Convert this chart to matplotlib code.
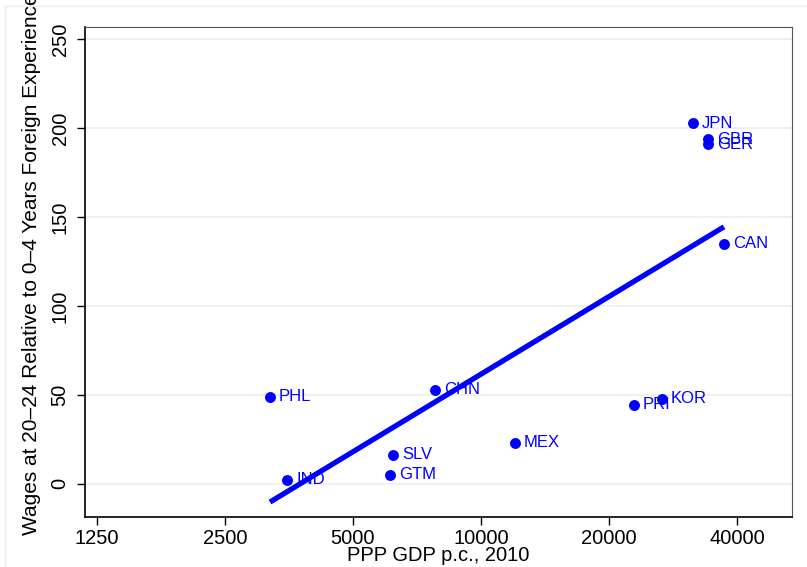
import matplotlib
matplotlib.use('Agg')
import matplotlib.pyplot as plt
from matplotlib.patches import Rectangle
from matplotlib.ticker import FixedLocator, NullLocator

plt.rcParams['font.family'] = ['Liberation Sans', 'DejaVu Sans']

# Datos
paises = ['PHL', 'IND', 'SLV', 'GTM', 'CHN', 'MEX', 'PRI', 'KOR', 'JPN', 'GBR', 'GER', 'CAN']
pib_ppp = [3190, 3500, 6210, 6110, 7790, 12030, 22900, 26650, 31530, 34190, 34190, 37290]
salarios = [49.0, 2.3, 16.4, 5.1, 53.0, 23.2, 44.6, 48.0, 202.8, 193.8, 191.0, 135.0]

# Recta ajustada (extremos)
ajuste_x = [3190, 37290]
ajuste_y = [-10.2, 144.6]

xticks = [1250, 2500, 5000, 10000, 20000, 40000]
yticks = [0, 50, 100, 150, 200, 250]

azul = '#0000ff'

fig = plt.figure(figsize=(8.07, 5.67), dpi=100)
ax = fig.add_axes([0.1053, 0.0882, 0.8761, 0.8642])

# marco exterior tipo Stata (recortado a la derecha y abajo)
fig.patches.append(Rectangle((5 / 807, -10 / 567), 820 / 807, 571 / 567, transform=fig.transFigure,
                             fill=False, edgecolor='#e6ecee', linewidth=1.0))

ax.set_xscale('log')
ax.set_xlim(1171, 53900)
ax.set_ylim(-18.6, 257)

for y in yticks:
    ax.axhline(y, color='#e9f0f2', linewidth=1.2, zorder=0)

ax.plot(ajuste_x, ajuste_y, color=azul, linewidth=3.8, solid_capstyle='butt', zorder=2)
ax.scatter(pib_ppp, salarios, s=62, color=azul, zorder=3, linewidths=0)

for p, x, y in zip(paises, pib_ppp, salarios):
    ax.annotate(p, (x, y), xytext=(6.5, 0), textcoords='offset points',
                va='center', ha='left', color=azul, fontsize=12, zorder=4)

ax.xaxis.set_major_locator(FixedLocator(xticks))
ax.xaxis.set_minor_locator(NullLocator())
ax.set_xticklabels([str(t) for t in xticks])
ax.set_yticks(yticks)
ax.set_yticklabels([str(t) for t in yticks], rotation=90, va='center')

ax.tick_params(axis='both', direction='out', length=6, width=1, labelsize=14.5, colors='black')
ax.tick_params(axis='y', pad=5)
ax.tick_params(axis='x', pad=3)

for s in ['top', 'right']:
    ax.spines[s].set_color('#555555')
for s in ['left', 'bottom']:
    ax.spines[s].set_color('black')
    ax.spines[s].set_linewidth(1.2)

ax.set_xlabel('PPP GDP p.c., 2010', fontsize=14.5, labelpad=-2)
ax.set_ylabel('Wages at 20\u201324 Relative to 0\u20134 Years Foreign Experience', fontsize=15)
ax.yaxis.set_label_coords(-0.062, 0.515)

fig.savefig('out.png', dpi=100)
